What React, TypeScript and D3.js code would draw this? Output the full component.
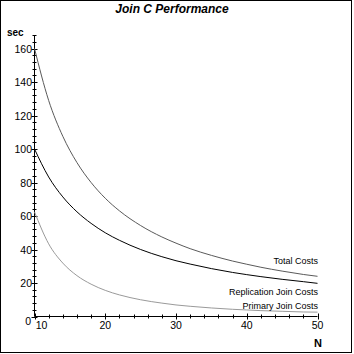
import React from "react";
import * as d3 from "d3";

const nValues = [10, 12, 14, 16, 18, 20, 22, 25, 28, 30, 32, 35, 38, 40, 42, 45, 48, 50];
const totalCosts = [160, 129, 107.6, 91.9, 80, 70.6, 63.1, 54.3, 47.5, 43.8, 40.5, 36.5, 33.1, 31.2, 29.4, 27.1, 25.1, 24.0];
const replicationCosts = [100, 83.3, 71.4, 62.5, 55.6, 50, 45.5, 40, 35.7, 33.3, 31.3, 28.6, 26.3, 25, 23.8, 22.2, 20.8, 19.8];
const primaryCosts = [62.5, 43.4, 31.9, 24.4, 19.3, 15.6, 12.9, 10, 8, 6.9, 6.1, 5.1, 4.3, 3.9, 3.5, 3.1, 2.7, 2.6];
const seriesNames = ["Total Costs", "Replication Join Costs", "Primary Join Costs"];
const yMajorTicks = [0, 20, 40, 60, 80, 100, 120, 140, 160];
const xMajorTicks = [10, 20, 30, 40, 50];

export default function App() {
  const W = 354, H = 354;
  const x = d3.scaleLinear().domain([10, 50]).range([34.5, 317.5]);
  const y = d3.scaleLinear().domain([0, 160]).range([316.5, 48.5]);
  const font = "'Liberation Sans', Arial, Helvetica, sans-serif";

  const series = [
    { name: seriesNames[0], vals: totalCosts, color: "#5a5a5a", ly: 264 },
    { name: seriesNames[1], vals: replicationCosts, color: "#000000", ly: 295 },
    { name: seriesNames[2], vals: primaryCosts, color: "#9a9a9a", ly: 309 },
  ];

  const line = (vals: number[]) =>
    d3.line<number>()
      .x((_, i) => x(nValues[i]))
      .y((d) => y(d))
      .curve(d3.curveMonotoneX)(vals) as string;

  const yMinor = d3.range(0, 169, 4);
  const xMinor = d3.range(10, 50.01, 2);
  const yTop = y(168);

  return (
    <svg width={W} height={H} style={{ position: "absolute", left: 0, top: 0, background: "#fff" }}>
      <rect x={0.5} y={0.5} width={351} height={352} fill="#fff" stroke="#000" strokeWidth={1} />
      <text x={172} y={13} textAnchor="middle" fontFamily={font} fontSize={12} fontWeight="bold" fontStyle="italic">Join C Performance</text>
      <text x={7} y={36} fontFamily={font} fontSize={10} fontWeight="bold">sec</text>
      <text x={318} y={347} textAnchor="middle" fontFamily={font} fontSize={11} fontWeight="bold">N</text>

      {/* y axis */}
      <line x1={x(10)} x2={x(10)} y1={y(0)} y2={yTop} stroke="#000" />
      {yMinor.map((v) => (
        <line key={"ym" + v} x1={x(10) - 2} x2={x(10) + 2} y1={Math.round(y(v)) + 0.5} y2={Math.round(y(v)) + 0.5} stroke="#000" />
      ))}
      {yMajorTicks.map((v) => (
        <g key={"yt" + v}>
          <line x1={x(10) - 3} x2={x(10) + 3} y1={Math.round(y(v)) + 0.5} y2={Math.round(y(v)) + 0.5} stroke="#000" />
          <text x={v === 0 ? 31 : 32} y={v === 0 ? y(v) + 8 : y(v) + 4} textAnchor="end" fontFamily={font} fontSize={10.5}>{v}</text>
        </g>
      ))}

      {/* x axis */}
      <line x1={x(10)} x2={x(50)} y1={y(0)} y2={y(0)} stroke="#000" />
      {xMinor.map((v) => (
        <line key={"xm" + v} x1={Math.round(x(v)) + 0.5} x2={Math.round(x(v)) + 0.5} y1={y(0) - 2} y2={y(0) + 2} stroke="#000" />
      ))}
      {xMajorTicks.map((v) => (
        <g key={"xt" + v}>
          <line x1={Math.round(x(v)) + 0.5} x2={Math.round(x(v)) + 0.5} y1={y(0) - 3} y2={y(0) + 3} stroke="#000" />
          <text x={v === 10 ? x(v) + 7 : x(v)} y={y(0) + 12} textAnchor="middle" fontFamily={font} fontSize={10.5}>{v}</text>
        </g>
      ))}

      {series.map((s) => (
        <g key={s.name}>
          <path d={line(s.vals)} fill="none" stroke={s.color} strokeWidth={1} />
          <text x={318} y={s.ly} textAnchor="end" fontFamily={font} fontSize={9}>{s.name}</text>
        </g>
      ))}
    </svg>
  );
}
